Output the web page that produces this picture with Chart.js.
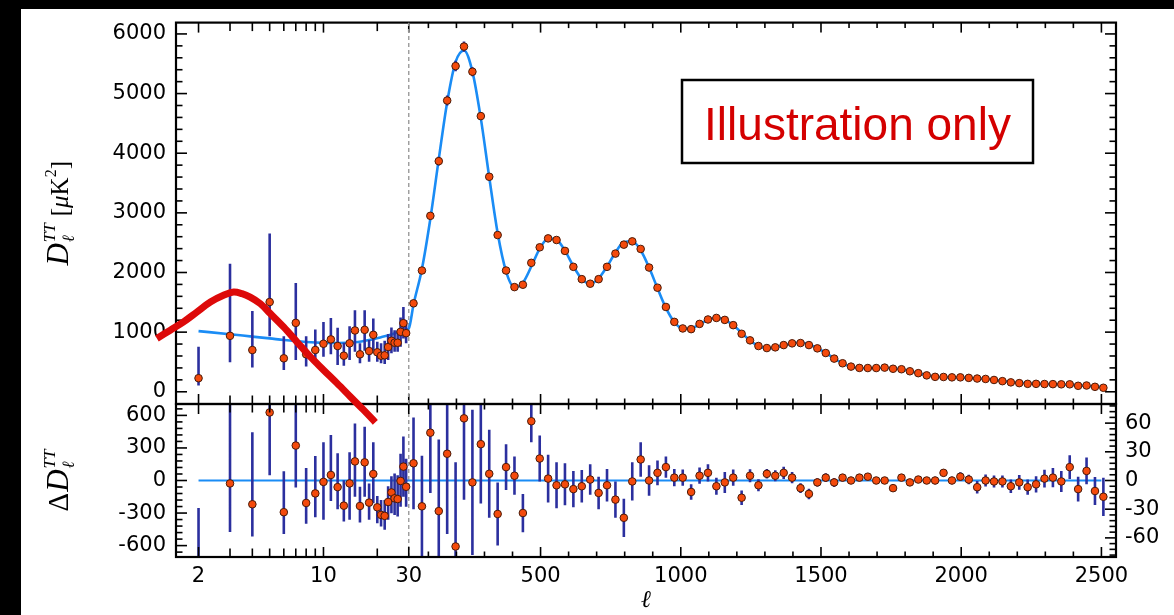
<!DOCTYPE html>
<html>
<head>
<meta charset="utf-8">
<script src="https://cdn.jsdelivr.net/npm/chart.js@4.4.1/dist/chart.umd.min.js"></script>
<style>
  html, body { margin: 0; padding: 0; background: #000; overflow: hidden; }
  #sheet { position: absolute; left: 21px; top: 9px; width: 1153px; height: 606px; background: #fff; }
  canvas { position: absolute; left: 0; top: 0; }
  #top { z-index: 2; }
</style>
</head>
<body>
<div id="sheet"></div>
<canvas id="bottom" width="1174" height="615"></canvas>
<canvas id="top" width="1174" height="615"></canvas>
<script>
// Datos (ℓ bajo: escala log, ℓ >= 30: escala lineal)
const lowEll  = [2,3,4,5,6,7,8,9,10,11,12,13,14,15,16,17,18,19,20,21,22,23,24,25,26,27,28,29];
const lowD    = [228,938,700,1505,561,1155,628,700,805,878,767,605,812,1028,628,1038,683,955,662,605,611,750,855,822,822,1005,1150,983];
const lowHi   = [755,2145,1355,2655,933,1822,933,1045,1172,1238,1072,822,1100,1367,812,1367,867,1228,838,812,855,967,1078,1033,1033,1245,1422,1200];
const lowLo   = [105,495,405,933,367,533,422,505,588,628,450,438,533,672,478,688,505,688,505,478,467,533,645,672,672,755,895,812];
const lowRes   = [-790,-27,-219,627,-292,322,-207,-119,-13,51,-61,-232,-27,176,-235,167,-204,60,-247,-317,-326,-198,-110,-164,-171,-4,128,-58];
const lowResHi = [-253,1185,444,1777,85,989,115,225,353,420,252,3,261,526,-58,496,-27,353,-143,-180,-180,-52,39,64,48,247,405,201];
const lowResLo = [-1100,-475,-515,48,-493,-64,-399,-338,-362,-189,-265,-378,-362,-150,-387,-150,-362,-210,-393,-424,-454,-362,-301,-317,-332,-241,-150,-241];

const hiEll = [47,77,107,137,167,197,227,257,287,317,347,377,407,437,467,497,527,557,587,617,
  647,677,707,737,767,797,827,857,887,917,947,977,1007,1037,1067,1097,1127,1157,1187,1217,
  1247,1277,1307,1337,1367,1397,1427,1457,1487,1517,1547,1577,1607,1637,1667,1697,1727,1757,1787,1817,
  1847,1877,1907,1937,1967,1997,2027,2057,2087,2117,2147,2177,2207,2237,2267,2297,2327,2357,2387,2417,
  2447,2477,2507];
const hiD = [1483,2033,2950,3867,4883,5461,5788,5367,4622,3605,2628,2033,1755,1795,2162,2422,2572,2545,2362,2095,
  1888,1812,1888,2095,2317,2467,2522,2395,2083,1745,1422,1172,1062,1050,1138,1212,1238,1205,1117,972,
  862,767,733,745,783,812,817,783,728,650,556,478,422,400,398,398,405,386,378,344,
  312,275,250,248,242,242,233,222,215,198,178,158,145,133,133,130,128,125,125,100,
  105,83,67];
const hiModel = [1465,2060,2900,3900,4855,5530,5723,5369,4584,3598,2663,2019,1750,1829,2100,2399,2570,2550,2366,2104,
  1894,1811,1901,2100,2337,2506,2523,2373,2083,1737,1408,1169,1059,1062,1133,1204,1244,1207,1114,990,
  857,772,726,740,775,809,825,797,730,652,560,476,422,398,395,398,402,394,376,346,
  311,276,252,242,240,238,232,225,214,199,182,164,150,140,136,130,126,123,117,110,
  98,90,80];
const hiRes = [18,-27,50,-32,28,-69,65,-2,38,7,-35,14,5,-34,62,23,2,-5,-4,-9,
  -6,1,-13,-5,-20,-39,-1,22,0,8,14,3,3,-12,5,8,-6,-2,3,-18,
  5,-5,7,5,8,3,-8,-14,-2,3,-2,3,0,3,4,0,0,-8,3,-2,
  1,0,0,8,0,4,1,-7,0,-1,-1,-6,-2,-7,-4,2,3,-1,14,-9,
  10,-11,-17];
const hiErr = [48,53,63,75,84,88,85,76,62,46,33,24,20,20,22,24,25,24,22,19,
  17,16,17,17,19,20,20,18,16,13,11,9,8.5,8,8.5,9,9,11,8.5,7.5,
  6.7,6.3,5,5.7,6.5,6,5,5.5,4.3,4.6,4.7,3.7,3.5,3.5,3.5,3.5,3.5,3.4,3.6,3.6,
  3.7,3.7,3.8,3.8,4,4.5,5,6.5,6.2,6.3,6.3,7,7.7,8,8.5,9.3,10,11,12.5,13,
  14,14.7,20];

const modelLowEll = [2,3,4,5,6,8,10,12,15,18,21,24,27,30];
const modelLow    = [1017,965,925,895,868,835,820,818,830,868,915,960,1010,1060];

const redEll = [1.17,1.39,1.65,1.96,2.33,2.76,3.14,3.5,3.89,4.43,5.04,5.98,7.1,8.43,10,11.9,14.1,16.7,19.5];
const redVal = [895,1033,1172,1338,1505,1617,1672,1645,1588,1478,1312,1088,838,588,367,145,-78,-300,-512];

const zeroEll = [2, 2500];

// Ticks
const xLabels    = [2,10,30,500,1000,1500,2000,2500];
const xMinorLog  = [3,4,5,6,7,8,9,20];
const xMinorLin  = [100,200,300,400,600,700,800,900,1100,1200,1300,1400,1600,1700,1800,1900,2100,2200,2300,2400];
const yTopLabels = [0,1000,2000,3000,4000,5000,6000];
const yResLabels = [-600,-300,0,300,600];
const yHiLabels  = [-60,-30,0,30,60];

// Escala híbrida: log para ℓ < 30, lineal después
const SPLIT = 30, LOG_SPAN = 637.4;
const toU = l => (l >= SPLIT ? l : (l > 0 ? SPLIT + LOG_SPAN * Math.log10(l / SPLIT) : -1e6));
const fromU = u => (u >= SPLIT ? u : SPLIT * Math.pow(10, (u - SPLIT) / LOG_SPAN));

class HybridScale extends Chart.LinearScale {
  getPixelForValue(v) { return v == null ? NaN : super.getPixelForValue(toU(v)); }
  getValueForPixel(p) { return fromU(super.getValueForPixel(p)); }
}
HybridScale.id = 'hybrid';
HybridScale.defaults = Chart.LinearScale.defaults;
Chart.register(HybridScale);

const U_MIN = -800, U_MAX = 2552;
const Y_TOP = [-205, 6190], Y_L = [-705, 705], Y_R = [-80, 80];

const pts  = (xs, ys) => xs.map((x, i) => ({ x, y: ys[i] }));
const bars = (xs, lo, hi) => xs.flatMap((x, i) => [{ x, y: lo[i] }, { x, y: hi[i] }, { x, y: null }]);

const tickFont = { family: "'DejaVu Sans', sans-serif", size: 21 };
const ORANGE = '#f44a0c', EDGE = '#4a1a08', NAVY = '#2b2f9e', BLUE = '#1a8cf5';
const noGrid = { display: false, drawTicks: false };

const pointSet = (data, axis) => ({
  data, yAxisID: axis, showLine: false, order: 2,
  pointRadius: 3.8, pointBackgroundColor: ORANGE, pointBorderColor: EDGE, pointBorderWidth: 1
});
const barSet = (data, axis) => ({
  data, yAxisID: axis, borderColor: NAVY, borderWidth: 2.6, pointRadius: 0, order: 4
});
const dashSet = (lo, hi, axis) => ({
  data: [{ x: SPLIT, y: lo }, { x: SPLIT, y: hi }], yAxisID: axis,
  borderColor: '#9a9a9a', borderWidth: 1.4, borderDash: [4, 3], pointRadius: 0, order: 6
});

// Marco y marcas hacia dentro
function drawFrame(chart, sides) {
  const { ctx, chartArea: a, scales } = chart;
  ctx.save();
  ctx.strokeStyle = '#000';
  ctx.lineWidth = 1.6;
  const seg = (x1, y1, x2, y2) => { ctx.beginPath(); ctx.moveTo(x1, y1); ctx.lineTo(x2, y2); ctx.stroke(); };
  const xs = scales.x;
  const xt = [...xLabels.map(v => [v, 10]), ...xMinorLog.map(v => [v, 8.5]), ...xMinorLin.map(v => [v, 5.5])];
  xt.forEach(([v, len]) => {
    const p = xs.getPixelForValue(v);
    seg(p, a.top, p, a.top + len);
    seg(p, a.bottom, p, a.bottom - len);
  });
  sides.forEach(s => {
    const sc = scales[s.id];
    const dir = s.side === 'left' ? 1 : -1;
    const x0 = s.side === 'left' ? a.left : a.right;
    for (let v = Math.ceil(sc.min / s.step) * s.step; v <= sc.max; v += s.step) {
      const p = sc.getPixelForValue(v);
      if (p <= a.top + 1 || p >= a.bottom - 1) continue;
      seg(x0, p, x0 + dir * (s.major.includes(v) ? 11 : 6.5), p);
    }
  });
  ctx.lineWidth = 2.2;
  ctx.strokeRect(a.left, a.top, a.right - a.left, a.bottom - a.top);
  ctx.restore();
}

// Título vertical con sub/superíndices
function drawYTitle(ctx, cx, cy, runs) {
  ctx.save();
  ctx.translate(cx, cy);
  ctx.rotate(-Math.PI / 2);
  ctx.fillStyle = '#000';
  ctx.textBaseline = 'alphabetic';
  const walk = draw => {
    let x = 0, hold = 0;
    runs.forEach(r => {
      ctx.font = r.font;
      const w = ctx.measureText(r.t).width;
      if (draw) ctx.fillText(r.t, draw + x, r.dy || 0);
      if (r.stack) { hold = Math.max(hold, w); }
      else { x += Math.max(hold, w) + (r.gap || 0); hold = 0; }
    });
    return x;
  };
  const total = walk(0);
  walk(-total / 2 || -0.001);
  ctx.restore();
}

const SERIF = '"Liberation Serif", "DejaVu Serif", serif';
const upperTitle = [
  { t: 'D', font: `italic 31px ${SERIF}`, gap: 1 },
  { t: 'TT', font: `italic 17px ${SERIF}`, dy: -13, stack: true },
  { t: 'ℓ', font: `italic 17px "DejaVu Serif", serif`, dy: 6, gap: 7 },
  { t: '[', font: `25px ${SERIF}` },
  { t: 'μ', font: `italic 25px ${SERIF}` },
  { t: 'K', font: `25px ${SERIF}` },
  { t: '2', font: `16px ${SERIF}`, dy: -12 },
  { t: ']', font: `25px ${SERIF}` }
];
const lowerTitle = [
  { t: 'Δ', font: `29px ${SERIF}`, gap: 1 },
  { t: 'D', font: `italic 31px ${SERIF}`, gap: 1 },
  { t: 'TT', font: `italic 17px ${SERIF}`, dy: -13, stack: true },
  { t: 'ℓ', font: `italic 17px "DejaVu Serif", serif`, dy: 6 }
];

function drawNote(ctx) {
  ctx.save();
  ctx.fillStyle = '#fff';
  ctx.fillRect(682, 80, 351, 83);
  ctx.lineWidth = 2.5;
  ctx.strokeStyle = '#000';
  ctx.strokeRect(682, 80, 351, 83);
  ctx.fillStyle = '#d40000';
  ctx.font = '46px "Liberation Sans", Arial, sans-serif';
  ctx.textAlign = 'center';
  ctx.textBaseline = 'alphabetic';
  ctx.fillText('Illustration only', 857.5, 140);
  ctx.restore();
}

const common = {
  responsive: false, devicePixelRatio: 1, animation: false, events: [],
  plugins: { legend: { display: false }, tooltip: { enabled: false } }
};
const xHybrid = extra => Object.assign({
  type: 'hybrid', min: U_MIN, max: U_MAX, bounds: 'data',
  grid: noGrid, border: { display: false },
  afterBuildTicks: s => { s.ticks = xLabels.map(v => ({ value: v })); }
}, extra);

// Panel inferior (residuos)
new Chart(document.getElementById('bottom'), {
  type: 'line',
  data: {
    datasets: [
      dashSet(Y_L[0], Y_L[1], 'yL'),
      { data: pts(zeroEll, [0, 0]), yAxisID: 'yL', borderColor: BLUE, borderWidth: 2.2, pointRadius: 0, order: 5 },
      barSet(bars(lowEll, lowResLo, lowResHi), 'yL'),
      barSet(bars(hiEll, hiRes.map((r, i) => r - hiErr[i]), hiRes.map((r, i) => r + hiErr[i])), 'yR'),
      pointSet(pts(lowEll, lowRes), 'yL'),
      pointSet(pts(hiEll, hiRes), 'yR')
    ]
  },
  options: Object.assign({}, common, {
    layout: { padding: { left: 0, top: 404, right: 0, bottom: 0 } },
    scales: {
      x: xHybrid({
        position: 'bottom',
        ticks: { font: tickFont, color: '#000', padding: 7, autoSkip: false, maxRotation: 0,
                 callback: v => String(v) },
        title: { display: true, text: 'ℓ', color: '#000',
                 font: { family: '"DejaVu Serif", serif', size: 24, style: 'italic' },
                 padding: { top: 0, bottom: 0 } },
        afterFit: s => { s.height = 58; }
      }),
      yL: {
        position: 'left', min: Y_L[0], max: Y_L[1], bounds: 'data',
        grid: noGrid, border: { display: false },
        ticks: { font: tickFont, color: '#000', padding: 10, callback: v => String(v) },
        afterBuildTicks: s => { s.ticks = yResLabels.map(v => ({ value: v })); },
        afterFit: s => { s.width = 176; }
      },
      yR: {
        position: 'right', min: Y_R[0], max: Y_R[1], bounds: 'data',
        grid: noGrid, border: { display: false },
        ticks: { font: tickFont, color: '#000', padding: 9, callback: v => String(v) },
        afterBuildTicks: s => { s.ticks = yHiLabels.map(v => ({ value: v })); },
        afterFit: s => { s.width = 58; }
      }
    }
  }),
  plugins: [{
    id: 'lowerDeco',
    afterDatasetsDraw(chart) {
      drawFrame(chart, [
        { id: 'yL', side: 'left', step: 60, major: yResLabels },
        { id: 'yR', side: 'right', step: 6, major: yHiLabels }
      ]);
    },
    afterDraw(chart) {
      const a = chart.chartArea;
      drawYTitle(chart.ctx, 68, (a.top + a.bottom) / 2, lowerTitle);
    }
  }]
});

// Panel superior (espectro)
new Chart(document.getElementById('top'), {
  type: 'line',
  data: {
    datasets: [
      dashSet(Y_TOP[0], Y_TOP[1], 'y'),
      { data: pts(modelLowEll.concat(hiEll), modelLow.concat(hiModel)), yAxisID: 'y',
        borderColor: BLUE, borderWidth: 2.6, pointRadius: 0, cubicInterpolationMode: 'monotone', order: 5 },
      barSet(bars(lowEll, lowLo, lowHi), 'y'),
      barSet(bars(hiEll, hiD.map((d, i) => d - hiErr[i]), hiD.map((d, i) => d + hiErr[i])), 'y'),
      pointSet(pts(lowEll, lowD), 'y'),
      pointSet(pts(hiEll, hiD), 'y'),
      { data: pts(redEll, redVal), yAxisID: 'y', borderColor: '#dd0a0a', borderWidth: 7,
        pointRadius: 0, tension: 0.35, clip: false, order: 1 }
    ]
  },
  options: Object.assign({}, common, {
    layout: { padding: { left: 0, top: 21, right: 58, bottom: 211 } },
    scales: {
      x: xHybrid({ display: false }),
      y: {
        position: 'left', min: Y_TOP[0], max: Y_TOP[1], bounds: 'data',
        grid: noGrid, border: { display: false },
        ticks: { font: tickFont, color: '#000', padding: 10, callback: v => String(v) },
        afterBuildTicks: s => { s.ticks = yTopLabels.map(v => ({ value: v })); },
        afterFit: s => { s.width = 176; }
      }
    }
  }),
  plugins: [{
    id: 'upperDeco',
    beforeDatasetsDraw(chart) {
      drawFrame(chart, [
        { id: 'y', side: 'left', step: 200, major: yTopLabels },
        { id: 'y', side: 'right', step: 200, major: yTopLabels }
      ]);
    },
    afterDraw(chart) {
      const a = chart.chartArea;
      drawYTitle(chart.ctx, 68, (a.top + a.bottom) / 2, upperTitle);
      drawNote(chart.ctx);
    }
  }]
});
</script>
</body>
</html>
